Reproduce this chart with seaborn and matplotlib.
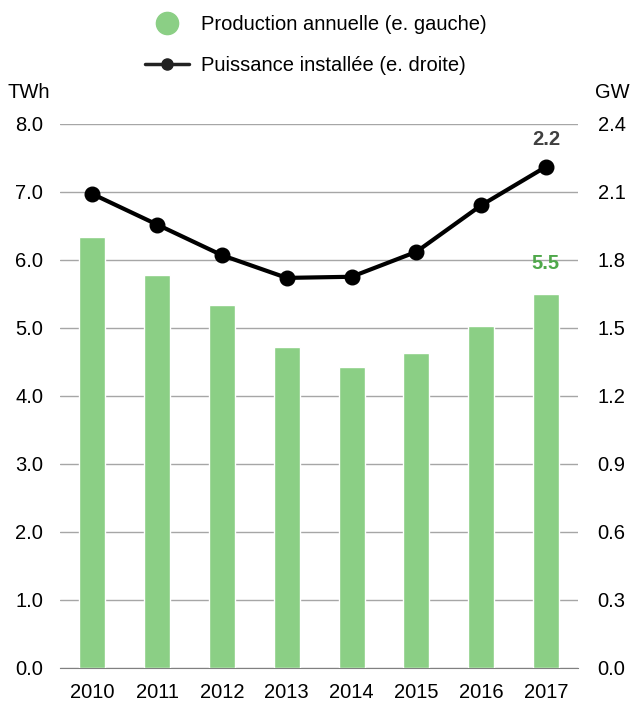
import matplotlib
matplotlib.use("Agg")
import matplotlib.pyplot as plt
import seaborn as sns
import pandas as pd
from matplotlib.lines import Line2D

years = ["2010", "2011", "2012", "2013", "2014", "2015", "2016", "2017"]
production_twh = [6.33, 5.77, 5.34, 4.72, 4.42, 4.63, 5.02, 5.50]
puissance_gw = [2.09, 1.955, 1.82, 1.72, 1.725, 1.835, 2.04, 2.21]
left_ticks = [0.0, 1.0, 2.0, 3.0, 4.0, 5.0, 6.0, 7.0, 8.0]
right_ticks = [0.0, 0.3, 0.6, 0.9, 1.2, 1.5, 1.8, 2.1, 2.4]

sns.set_style("white")
plt.rcParams['font.family'] = ['Liberation Sans', 'DejaVu Sans']
plt.rcParams['text.color'] = 'black'
plt.rcParams['xtick.color'] = 'black'
plt.rcParams['ytick.color'] = 'black'

FS = 14.5
df = pd.DataFrame({"year": years, "prod": production_twh, "gw": puissance_gw})

bar_color = "#8bcf85"
fig = plt.figure(figsize=(6.32, 7.03), dpi=100)
ax = fig.add_axes([0.095, 0.05, 0.82, 0.774])
sns.barplot(data=df, x="year", y="prod", color=bar_color, width=0.4, ax=ax,
            saturation=1, zorder=3)
ax.set_ylim(0, 8)
ax.set_xlim(-0.5, 7.5)
ax.set_yticks(left_ticks)
ax.set_yticklabels([f"{v:.1f}" for v in left_ticks], fontsize=FS)
ax.yaxis.grid(True, color="#a6a6a6", linewidth=1, zorder=0)
ax.set_axisbelow(True)
ax.set_xlabel("")
ax.set_ylabel("")
for s in ["top", "right", "left"]:
    ax.spines[s].set_visible(False)
ax.spines["bottom"].set_color("#808080")
ax.tick_params(axis="x", which="major", length=0, labelsize=FS, pad=11)
ax.tick_params(axis="y", length=0, pad=12)
ax.set_xticks([i - 0.5 for i in range(9)], minor=True)
ax.tick_params(axis="x", which="minor", length=5, color="#808080", direction="out")

ax2 = ax.twinx()
ax2.plot(range(len(years)), puissance_gw, color="black", linewidth=3,
         marker="o", markersize=10.5, zorder=5)
ax2.set_ylim(0, 2.4)
ax2.set_yticks(right_ticks)
ax2.set_yticklabels([f"{v:.1f}" for v in right_ticks], fontsize=FS)
ax2.tick_params(axis="y", length=0, pad=14)
for s in ["top", "right", "left", "bottom"]:
    ax2.spines[s].set_visible(False)

ax2.annotate(f"{puissance_gw[-1]:.1f}", (7, puissance_gw[-1]), xytext=(0, 13),
             textcoords="offset points", ha="center", va="bottom",
             fontsize=FS, fontweight="bold", color="#404040")
ax.annotate(f"{production_twh[-1]:.1f}", (7, production_twh[-1]), xytext=(0, 15),
            textcoords="offset points", ha="center", va="bottom",
            fontsize=FS, fontweight="bold", color="#4fa84a")

fig.text(0.012, 0.869, "TWh", fontsize=FS, ha="left", va="center")
fig.text(0.997, 0.869, "GW", fontsize=FS, ha="right", va="center")

handles = [
    Line2D([], [], linestyle="none", marker="o", markersize=16,
           markerfacecolor=bar_color, markeredgecolor=bar_color),
    Line2D([], [], color="#222222", linewidth=2.5, marker="o", markersize=8),
]
fig.legend(handles, ["Production annuelle (e. gauche)", "Puissance installée (e. droite)"],
           loc="upper center", bbox_to_anchor=(0.5, 1.005), frameon=False,
           fontsize=FS, labelspacing=1.1, handlelength=2.2, handletextpad=0.6)

fig.savefig("out.png", dpi=100)
